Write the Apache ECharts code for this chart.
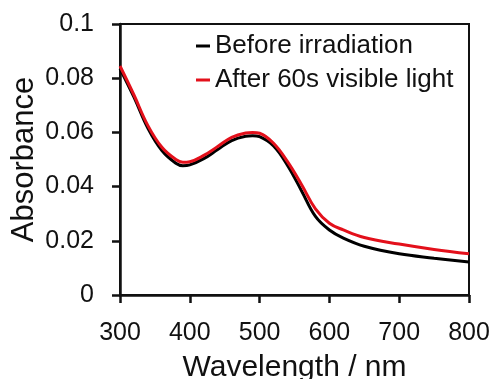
<!DOCTYPE html>
<html>
<head>
<meta charset="utf-8">
<script src="https://cdn.jsdelivr.net/npm/echarts@6/dist/echarts.min.js"></script>
<style>
  html, body { margin: 0; padding: 0; background: #fff; }
  #chart { width: 491px; height: 379px; }
</style>
</head>
<body>
<div id="chart"></div>
<script>
// wavelength (nm)
var wavelengths = [300, 320, 340, 360, 380, 390, 400, 420, 440, 460, 480, 490, 500, 520, 540, 560, 580, 600, 620, 650, 700, 750, 800];
// absorbance
var beforeVals = [0.0835, 0.0730, 0.0615, 0.0533, 0.0486, 0.0477, 0.0480, 0.0503, 0.0537, 0.0570, 0.0586, 0.0588, 0.0584, 0.0550, 0.0478, 0.0385, 0.0290, 0.0240, 0.0210, 0.0180, 0.0152, 0.0136, 0.0122];
var afterVals = [0.0845, 0.0738, 0.0625, 0.0545, 0.0500, 0.0490, 0.0492, 0.0515, 0.0548, 0.0582, 0.0598, 0.0600, 0.0597, 0.0560, 0.0492, 0.0408, 0.0318, 0.0265, 0.0240, 0.0212, 0.0188, 0.0168, 0.0152];
var seriesNames = ["Before irradiation", "After 60s visible light"];

function pairs(vals) {
  return wavelengths.map(function (w, i) { return [w, vals[i]]; });
}

var font = "'Liberation Sans', Arial, sans-serif";
var ink = "#111";

var myChart = echarts.init(document.getElementById("chart"));
myChart.setOption({
  animation: false,
  grid: {
    left: 120, right: 22, top: 24, bottom: 84,
    outerBoundsMode: "none",
    show: true, borderColor: ink, borderWidth: 2
  },
  legend: {
    orient: "vertical",
    left: 196, top: 33,
    padding: 0,
    itemWidth: 14, itemHeight: 3, itemGap: 8,
    icon: "rect",
    textStyle: { fontFamily: font, fontSize: 26, color: ink, lineHeight: 26 },
    data: seriesNames
  },
  xAxis: {
    type: "value",
    min: 300, max: 800, interval: 100,
    name: "Wavelength / nm",
    nameLocation: "middle",
    nameGap: 58,
    nameMoveOverlap: false,
    nameTextStyle: { fontFamily: font, fontSize: 30, color: ink },
    axisLine: { lineStyle: { color: ink, width: 2.5 } },
    axisTick: { show: true, length: 8, lineStyle: { color: ink, width: 2.5 } },
    axisLabel: { fontFamily: font, fontSize: 25, color: ink, margin: 26 },
    splitLine: { show: false }
  },
  yAxis: {
    type: "value",
    min: 0, max: 0.1, interval: 0.02,
    name: "Absorbance",
    nameLocation: "middle",
    nameGap: 80,
    nameMoveOverlap: false,
    nameTextStyle: { fontFamily: font, fontSize: 31, color: ink },
    axisLine: { show: true, lineStyle: { color: ink, width: 2.5 } },
    axisTick: { show: true, length: 8, lineStyle: { color: ink, width: 2.5 } },
    axisLabel: { fontFamily: font, fontSize: 25, color: ink, margin: 26 },
    splitLine: { show: false }
  },
  series: [
    {
      name: seriesNames[0],
      type: "line",
      smooth: 0.4,
      showSymbol: false,
      color: "#000",
      lineStyle: { width: 3, color: "#000" },
      data: pairs(beforeVals)
    },
    {
      name: seriesNames[1],
      type: "line",
      smooth: 0.4,
      showSymbol: false,
      color: "#e3101b",
      lineStyle: { width: 3, color: "#e3101b" },
      data: pairs(afterVals)
    }
  ]
});
</script>
</body>
</html>
